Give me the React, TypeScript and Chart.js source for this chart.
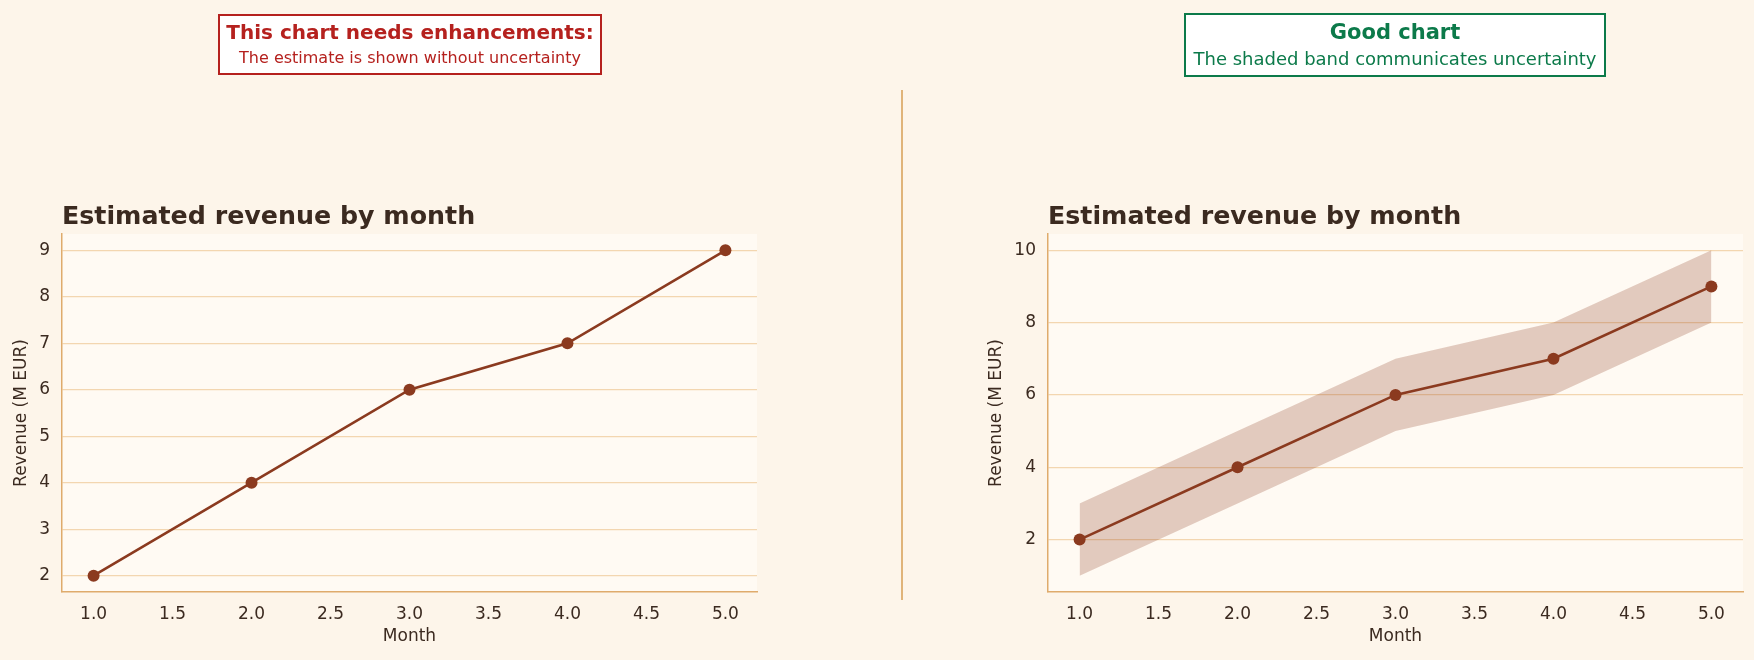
import React, { useEffect, useRef } from "react";
import { Chart, registerables } from "chart.js";

Chart.register(...registerables);

// ---- Data ----
const months = [1, 2, 3, 4, 5];
const revenue = [2, 4, 6, 7, 9];
const revenueLow = [1, 3, 5, 6, 8];
const revenueHigh = [3, 5, 7, 8, 10];
const xTickValues = [1.0, 1.5, 2.0, 2.5, 3.0, 3.5, 4.0, 4.5, 5.0];
const yTicksLeft = [2, 3, 4, 5, 6, 7, 8, 9];
const yTicksRight = [2, 4, 6, 8, 10];

const chartTitle = "Estimated revenue by month";
const xTitle = "Month";
const yTitle = "Revenue (M EUR)";

// ---- Styles ----
const FONT = "'DejaVu Sans', 'Noto Sans', sans-serif";
const FIG_BG = "#fdf5ea";
const PLOT_BG = "#fffaf3";
const GRID = "#f3d6b0";
const AXIS = "#dfab6c";
const TEXT = "#3b2a20";
const LINE = "#8b3a1f";
const BAND = "rgba(139,58,31,0.25)";

const pts = (ys: number[]) => months.map((m, i) => ({ x: m, y: ys[i] }));

function makeConfig(opts: {
  band: boolean;
  yMin: number;
  yMax: number;
  yTicks: number[];
  yAxisWidth: number;
  padRight: number;
}) {
  const datasets: any[] = [];
  if (opts.band) {
    datasets.push({
      data: pts(revenueLow),
      borderWidth: 0,
      pointRadius: 0,
      backgroundColor: BAND,
      fill: false,
      order: 2,
    });
    datasets.push({
      data: pts(revenueHigh),
      borderWidth: 0,
      pointRadius: 0,
      backgroundColor: BAND,
      fill: "-1",
      order: 1,
    });
  }
  datasets.push({
    data: pts(revenue),
    borderColor: LINE,
    borderWidth: 2.6,
    pointRadius: 6,
    pointBackgroundColor: LINE,
    pointBorderWidth: 0,
    fill: false,
    order: 0,
  });

  const plotBgPlugin = {
    id: "plotBg",
    beforeDraw(chart: any) {
      const { ctx, chartArea: a } = chart;
      ctx.save();
      ctx.fillStyle = PLOT_BG;
      ctx.fillRect(a.left, a.top, a.right - a.left, a.bottom - a.top);
      ctx.restore();
    },
    afterDraw(chart: any) {
      const { ctx, chartArea: a } = chart;
      ctx.save();
      ctx.fillStyle = TEXT;
      ctx.font = `bold 25.3px ${FONT}`;
      ctx.textAlign = "left";
      ctx.textBaseline = "alphabetic";
      ctx.fillText(chartTitle, a.left, 224);
      ctx.restore();
    },
  };

  return {
    type: "line" as const,
    data: { datasets },
    plugins: [plotBgPlugin],
    options: {
      animation: false,
      responsive: false,
      devicePixelRatio: 1,
      layout: { padding: { top: 234, left: 0, right: opts.padRight, bottom: 0 } },
      plugins: { legend: { display: false }, tooltip: { enabled: false }, title: { display: false } },
      scales: {
        x: {
          type: "linear",
          min: 0.8,
          max: 5.2,
          afterBuildTicks: (s: any) => {
            s.ticks = xTickValues.map((v) => ({ value: v }));
          },
          afterFit: (s: any) => {
            s.height = 68;
          },
          grid: { display: false, drawTicks: false },
          border: { display: true, color: AXIS, width: 1.5 },
          ticks: {
            padding: 12,
            color: TEXT,
            font: { family: FONT, size: 17 },
            maxRotation: 0,
            autoSkip: false,
            callback: (v: any) => Number(v).toFixed(1),
          },
          title: {
            display: true,
            text: xTitle,
            color: TEXT,
            font: { family: FONT, size: 17 },
            padding: { top: 0, bottom: 13 },
          },
        },
        y: {
          type: "linear",
          min: opts.yMin,
          max: opts.yMax,
          afterBuildTicks: (s: any) => {
            s.ticks = opts.yTicks.map((v) => ({ value: v }));
          },
          afterFit: (s: any) => {
            s.width = opts.yAxisWidth;
          },
          grid: { display: true, drawTicks: false, color: GRID, lineWidth: 1.3 },
          border: { display: true, color: AXIS, width: 1.5 },
          ticks: {
            padding: 12,
            color: TEXT,
            font: { family: FONT, size: 17 },
            autoSkip: false,
            callback: (v: any) => String(v),
          },
          title: {
            display: true,
            text: yTitle,
            color: TEXT,
            font: { family: FONT, size: 17 },
            padding: { top: 11, bottom: 0 },
          },
        },
      },
    },
  };
}

function ChartCanvas(props: { left: number; width: number; config: any }) {
  const ref = useRef<HTMLCanvasElement | null>(null);
  useEffect(() => {
    if (!ref.current) return;
    const chart = new Chart(ref.current, props.config);
    return () => chart.destroy();
  }, []);
  return (
    <canvas
      ref={ref}
      width={props.width}
      height={660}
      style={{ position: "absolute", left: props.left, top: 0, width: props.width, height: 660 }}
    />
  );
}

export default function App() {
  const leftConfig = makeConfig({
    band: false,
    yMin: 1.65,
    yMax: 9.35,
    yTicks: yTicksLeft,
    yAxisWidth: 62,
    padRight: 120,
  });
  const rightConfig = makeConfig({
    band: true,
    yMin: 0.55,
    yMax: 10.45,
    yTicks: yTicksRight,
    yAxisWidth: 73,
    padRight: 11,
  });

  const lineStyle = (top: number, size: number, bold: boolean, color: string, cx: number): React.CSSProperties => ({
    position: "absolute",
    left: cx - 300,
    width: 600,
    top,
    textAlign: "center",
    fontFamily: FONT,
    fontSize: size,
    fontWeight: bold ? "bold" : "normal",
    lineHeight: `${size}px`,
    color,
    whiteSpace: "nowrap",
  });

  const RED = "#b5211e";
  const GREEN = "#0c7a4a";

  return (
    <div
      style={{
        position: "fixed",
        left: 0,
        top: 0,
        width: 1754,
        height: 660,
        background: FIG_BG,
        overflow: "hidden",
      }}
    >
      <ChartCanvas left={0} width={877} config={leftConfig} />
      <ChartCanvas left={975} width={779} config={rightConfig} />

      <div style={{ position: "absolute", left: 901, top: 90, width: 2, height: 510, background: "#e0b47a" }} />

      <div
        style={{
          position: "absolute",
          left: 218,
          top: 14,
          width: 384,
          height: 61,
          boxSizing: "border-box",
          border: `2.5px solid ${RED}`,
          background: "#ffffff",
        }}
      />
      <div style={lineStyle(22, 20, true, RED, 410)}>This chart needs enhancements:</div>
      <div style={lineStyle(50, 16, false, RED, 410)}>The estimate is shown without uncertainty</div>

      <div
        style={{
          position: "absolute",
          left: 1184,
          top: 13,
          width: 422,
          height: 64,
          boxSizing: "border-box",
          border: `2.5px solid ${GREEN}`,
          background: "#ffffff",
        }}
      />
      <div style={lineStyle(21.5, 21, true, GREEN, 1395)}>Good chart</div>
      <div style={lineStyle(49.5, 18, false, GREEN, 1395)}>The shaded band communicates uncertainty</div>
    </div>
  );
}
